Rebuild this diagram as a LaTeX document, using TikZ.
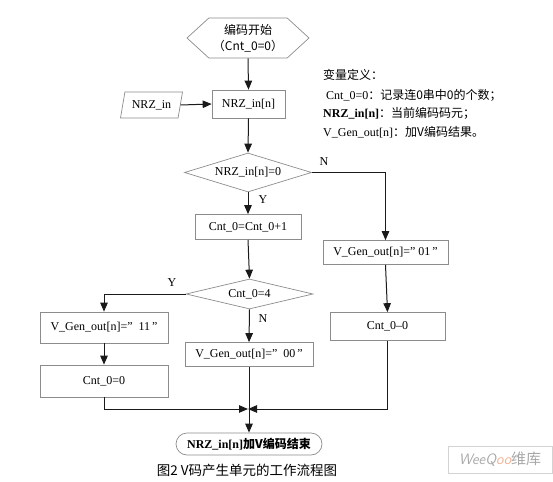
\documentclass[tikz,border=0pt]{standalone}
\usepackage{fontspec}
\setmainfont{Liberation Serif}
\newfontfamily\cjk{Noto Sans CJK SC}
\usepackage{tikz}
\usetikzlibrary{arrows.meta, shapes.geometric, shapes.symbols}
\definecolor{BoxGray}{HTML}{8C8C8C}
\definecolor{LineBlack}{HTML}{1A1A1A}
\definecolor{MarkGray}{HTML}{A8A8A8}
\definecolor{MarkOrange}{HTML}{F0B090}

\begin{document}
\begin{tikzpicture}[x=1pt, y=-1pt,
        every node/.style={font=\fontsize{12}{15}\selectfont},
        proc/.style={draw=BoxGray, line width=0.7pt, inner sep=0pt,
                    align=center},
        decide/.style={draw=BoxGray, line width=0.7pt, diamond, aspect=4,
                    inner sep=0pt, minimum width=127, align=center},
        flow/.style={draw=LineBlack, line width=1pt,
                    -{Triangle[length=9pt, width=7.5pt]}},
        tag/.style={font=\fontsize{12}{14}\selectfont},
        note/.style={anchor=west, inner sep=0pt, font=\fontsize{12}{14}\selectfont}]

        \useasboundingbox (0,0) rectangle (553,481);

        % Start / input
        \node[proc, signal, signal to=west and east, signal pointer angle=85,
              minimum width=122, minimum height=40, font=\fontsize{12}{16}\selectfont]
              (start) at (248,38) {\cjk{编码开始}\\\cjk{（}Cnt\_0=0\cjk{）}};
        \node[proc, minimum width=73, minimum height=28] (nrzn) at (248.5,104) {NRZ\_in[n]};
        \node[proc, trapezium, trapezium left angle=65, trapezium right angle=115,
              trapezium stretches body, minimum width=62, minimum height=26]
              (nrzin) at (151.5,105) {NRZ\_in};

        % Decisions
        \node[decide, minimum height=39] (isz) at (248,172.5) {NRZ\_in[n]=0};
        \node[decide, minimum height=30] (isf) at (249.5,294) {Cnt\_0=4};

        % Process boxes
        \node[proc, minimum width=106, minimum height=25] (inc)  at (248,227)   {Cnt\_0=Cnt\_0+1};
        \node[proc, minimum width=128, minimum height=31] (g11)  at (104,327.5) {V\_Gen\_out[n]=\char"201D\ \ 11\,\char"201D};
        \node[proc, minimum width=128, minimum height=32] (clrl) at (104,381)   {Cnt\_0=0};
        \node[proc, minimum width=128, minimum height=24] (g00)  at (249,354.5) {V\_Gen\_out[n]=\char"201D\ \ 00\,\char"201D};
        \node[proc, minimum width=125, minimum height=24] (g01)  at (385.5,252.5) {V\_Gen\_out[n]=\char"201D\ 01\,\char"201D};
        \node[proc, minimum width=115, minimum height=28] (clrr) at (387.5,326.5) {Cnt\_0--0};

        % End
        \node[proc, rounded corners=11pt, minimum width=146, minimum height=22,
              font=\fontsize{12}{14}\selectfont\bfseries]
              (done) at (249,444) {NRZ\_in[n]\cjk{加}V\cjk{编码结束}};
        \coordinate (join) at (248,409);

        % Arrows
        \draw[flow] (start.south) -- (nrzn.north);
        \draw[flow] (nrzin.east) -- (nrzn.west);
        \draw[flow] (nrzn.south) -- (isz.north);
        \draw[flow] (isz.south) -- (inc.north);
        \draw[flow] (isz.east) -| (g01.north);
        \draw[flow] (inc.south) -- (isf.north);
        \draw[flow] (isf.west) -| (g11.north);
        \draw[flow] (isf.south) -- (g00.north);
        \draw[flow] (g11.south) -- (clrl.north);
        \draw[flow] (g01.south) -- (clrr.north);
        \draw[flow] (clrl.south) |- (join);
        \draw[flow] (clrr.south) |- (join);
        \draw[flow] (g00.south) -- (done.north);

        % Branch labels
        \node[tag] (yz) at (263,200) {Y};
        \node[tag] (nz) at (324,162) {N};
        \node[tag] (yf) at (172,283) {Y};
        \node[tag] (nf) at (263,319) {N};

        % Variable definitions
        \node[note] (vtitle) at (323,75)  {\cjk{变量定义：}};
        \node[note] (vcnt)   at (326,95)  {Cnt\_0=0\cjk{：记录连}0\cjk{串中}0\cjk{的个数；}};
        \node[note] (vnrz)   at (323,113.5) {\textbf{NRZ\_in[n]}\cjk{：当前编码码元；}};
        \node[note] (vgen)   at (323,132) {V\_Gen\_out[n]\cjk{：加}V\cjk{编码结果。}};

        % Caption and mark
        \node[font=\fontsize{13.5}{16}\selectfont] (cap) at (247,470) {\cjk{图}2 V\cjk{码产生单元的工作流程图}};
        \node[draw=MarkGray!50, line width=0.5pt, minimum width=104, minimum height=27,
              inner sep=0pt, text=MarkGray, font=\fontsize{15}{17}\selectfont\sffamily\itshape]
              (mark) at (500,459.5) {WeeQ{\color{MarkOrange}oo}\cjk{\upshape 维库}};
      \end{tikzpicture}
\end{document}
